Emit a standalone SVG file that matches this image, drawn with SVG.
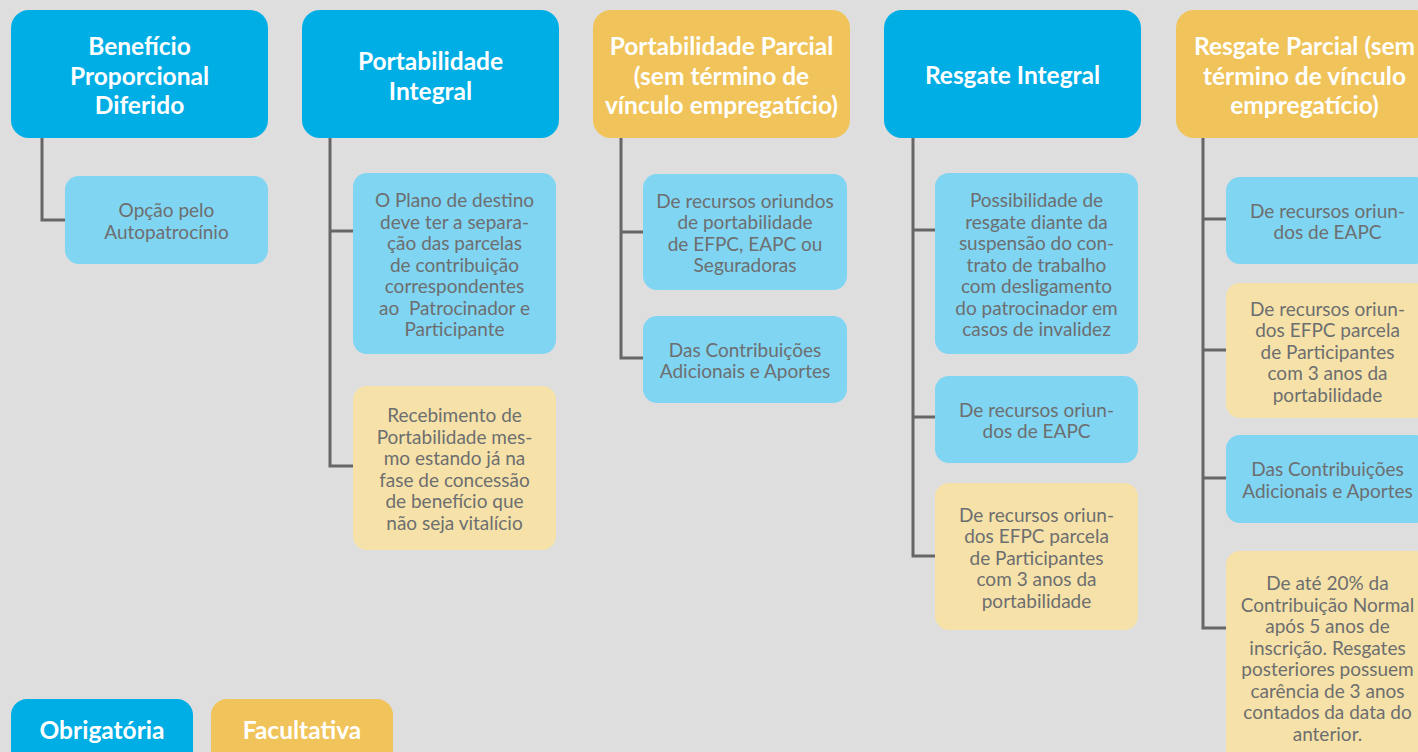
<svg xmlns="http://www.w3.org/2000/svg" width="1418" height="752" viewBox="0 0 1418 752">
<style>
.bg{fill:#dedede}
.hb{fill:#00aee6}
.hy{fill:#f0c45a}
.cb{fill:#80d5f2}
.cy{fill:#f6e2a8}
.ht{font-family:Lato,"Liberation Sans",sans-serif;font-weight:bold;font-size:24.5px;fill:#ffffff;text-anchor:middle}
.ct{font-family:Lato,"Liberation Sans",sans-serif;font-size:19px;fill:#6d6e70;text-anchor:middle}
.con{fill:none;stroke:#666666;stroke-width:3}
</style>
<rect class="bg" x="0" y="0" width="1418" height="752"/>
<g id="connectors">
<path class="con" d="M42,138 V220 H65"/>
<path class="con" d="M330,138 V466 H353 M330,231 H353"/>
<path class="con" d="M621,138 V358 H643 M621,232 H643"/>
<path class="con" d="M913,138 V556 H935 M913,230 H935 M913,417 H935"/>
<path class="con" d="M1203,138 V628 H1226 M1203,219 H1226 M1203,350 H1226 M1203,478 H1226"/>
</g>
<g id="h1"><rect class="hb" x="11" y="10" width="257" height="128" rx="18"/>
<text class="ht" x="139.5" y="55">Benefício<tspan x="139.5" dy="29.5">Proporcional</tspan><tspan x="139.5" dy="29.5">Diferido</tspan></text></g>
<g id="h2"><rect class="hb" x="302" y="10" width="257" height="128" rx="18"/>
<text class="ht" x="430.5" y="70">Portabilidade<tspan x="430.5" dy="29.5">Integral</tspan></text></g>
<g id="h3"><rect class="hy" x="593" y="10" width="257" height="128" rx="18"/>
<text class="ht" x="721.5" y="55">Portabilidade Parcial<tspan x="721.5" dy="29.5">(sem término de</tspan><tspan x="721.5" dy="29.5">vínculo empregatício)</tspan></text></g>
<g id="h4"><rect class="hb" x="884" y="10" width="257" height="128" rx="18"/>
<text class="ht" x="1012.5" y="84">Resgate Integral</text></g>
<g id="h5"><rect class="hy" x="1176" y="10" width="257" height="128" rx="18"/>
<text class="ht" x="1304.5" y="55">Resgate Parcial (sem<tspan x="1304.5" dy="29.5">término de vínculo</tspan><tspan x="1304.5" dy="29.5">empregatício)</tspan></text></g>

<g id="c1a"><rect class="cb" x="65" y="176" width="203" height="88" rx="14"/>
<text class="ct" x="166.5" y="217.25">Opção pelo<tspan x="166.5" dy="21.5">Autopatrocínio</tspan></text></g>

<g id="c2a"><rect class="cb" x="353" y="173" width="203" height="181" rx="14"/>
<text class="ct" x="454.5" y="207">O Plano de destino<tspan x="454.5" dy="21.5">deve ter a separa-</tspan><tspan x="454.5" dy="21.5">ção das parcelas</tspan><tspan x="454.5" dy="21.5">de contribuição</tspan><tspan x="454.5" dy="21.5">correspondentes</tspan><tspan x="454.5" dy="21.5">ao&#160; Patrocinador e</tspan><tspan x="454.5" dy="21.5">Participante</tspan></text></g>
<g id="c2b"><rect class="cy" x="353" y="386" width="203" height="164" rx="14"/>
<text class="ct" x="454.5" y="422.25">Recebimento de<tspan x="454.5" dy="21.5">Portabilidade mes-</tspan><tspan x="454.5" dy="21.5">mo estando já na</tspan><tspan x="454.5" dy="21.5">fase de concessão</tspan><tspan x="454.5" dy="21.5">de benefício que</tspan><tspan x="454.5" dy="21.5">não seja vitalício</tspan></text></g>

<g id="c3a"><rect class="cb" x="643" y="174" width="204" height="116" rx="14"/>
<text class="ct" x="745" y="207.75">De recursos oriundos<tspan x="745" dy="21.5">de portabilidade</tspan><tspan x="745" dy="21.5">de EFPC, EAPC ou</tspan><tspan x="745" dy="21.5">Seguradoras</tspan></text></g>
<g id="c3b"><rect class="cb" x="643" y="316" width="204" height="87" rx="14"/>
<text class="ct" x="745" y="356.75">Das Contribuições<tspan x="745" dy="21.5">Adicionais e Aportes</tspan></text></g>

<g id="c4a"><rect class="cb" x="935" y="173" width="203" height="181" rx="14"/>
<text class="ct" x="1036.5" y="207">Possibilidade de<tspan x="1036.5" dy="21.5">resgate diante da</tspan><tspan x="1036.5" dy="21.5">suspensão do con-</tspan><tspan x="1036.5" dy="21.5">trato de trabalho</tspan><tspan x="1036.5" dy="21.5">com desligamento</tspan><tspan x="1036.5" dy="21.5">do patrocinador em</tspan><tspan x="1036.5" dy="21.5">casos de invalidez</tspan></text></g>
<g id="c4b"><rect class="cb" x="935" y="376" width="203" height="87" rx="14"/>
<text class="ct" x="1036.5" y="416.75">De recursos oriun-<tspan x="1036.5" dy="21.5">dos de EAPC</tspan></text></g>
<g id="c4c"><rect class="cy" x="935" y="483" width="203" height="147" rx="14"/>
<text class="ct" x="1036.5" y="521.5">De recursos oriun-<tspan x="1036.5" dy="21.5">dos EFPC parcela</tspan><tspan x="1036.5" dy="21.5">de Participantes</tspan><tspan x="1036.5" dy="21.5">com 3 anos da</tspan><tspan x="1036.5" dy="21.5">portabilidade</tspan></text></g>

<g id="c5a"><rect class="cb" x="1226" y="177" width="203" height="87" rx="14"/>
<text class="ct" x="1327.5" y="217.75">De recursos oriun-<tspan x="1327.5" dy="21.5">dos de EAPC</tspan></text></g>
<g id="c5b"><rect class="cy" x="1226" y="283" width="203" height="135" rx="14"/>
<text class="ct" x="1327.5" y="315.5">De recursos oriun-<tspan x="1327.5" dy="21.5">dos EFPC parcela</tspan><tspan x="1327.5" dy="21.5">de Participantes</tspan><tspan x="1327.5" dy="21.5">com 3 anos da</tspan><tspan x="1327.5" dy="21.5">portabilidade</tspan></text></g>
<g id="c5c"><rect class="cb" x="1226" y="435" width="203" height="88" rx="14"/>
<text class="ct" x="1327.5" y="476.25">Das Contribuições<tspan x="1327.5" dy="21.5">Adicionais e Aportes</tspan></text></g>
<g id="c5d"><rect class="cy" x="1226" y="551" width="203" height="213" rx="14"/>
<text class="ct" x="1327.5" y="590.25">De até 20% da<tspan x="1327.5" dy="21.5">Contribuição Normal</tspan><tspan x="1327.5" dy="21.5">após 5 anos de</tspan><tspan x="1327.5" dy="21.5">inscrição. Resgates</tspan><tspan x="1327.5" dy="21.5">posteriores possuem</tspan><tspan x="1327.5" dy="21.5">carência de 3 anos</tspan><tspan x="1327.5" dy="21.5">contados da data do</tspan><tspan x="1327.5" dy="21.5">anterior.</tspan></text></g>

<g id="legend-obrigatoria"><rect class="hb" x="11" y="699" width="182" height="70" rx="16"/>
<text class="ht" x="102" y="739">Obrigatória</text></g>
<g id="legend-facultativa"><rect class="hy" x="211" y="699" width="182" height="70" rx="16"/>
<text class="ht" x="302" y="739">Facultativa</text></g>
</svg>
